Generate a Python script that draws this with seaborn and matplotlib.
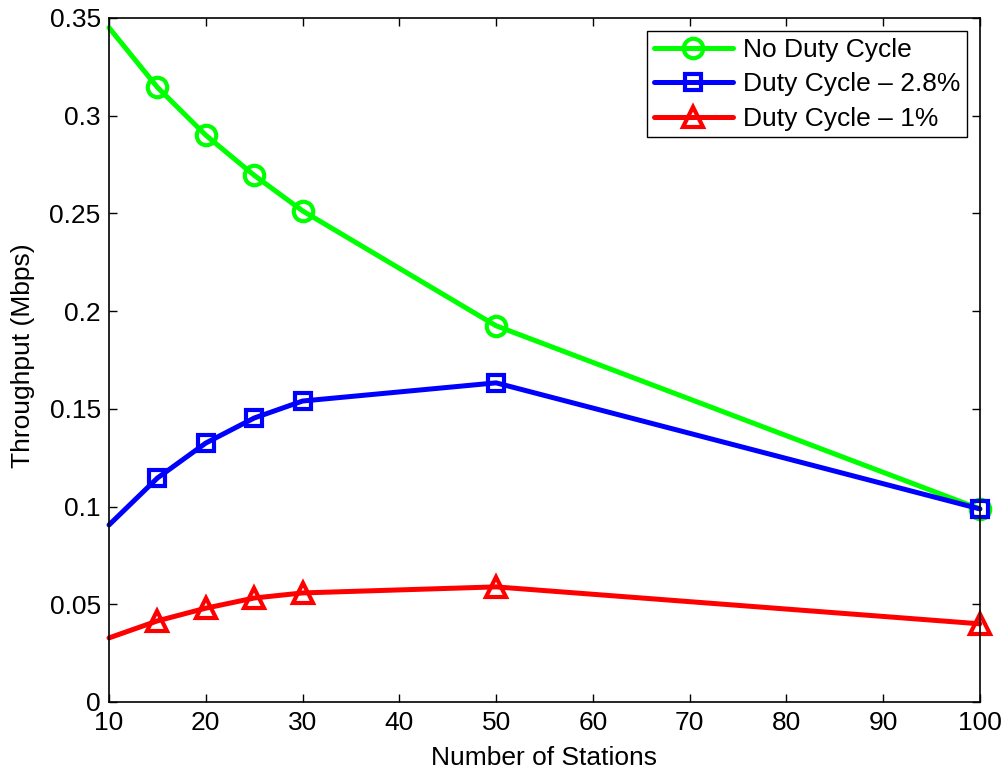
import matplotlib
matplotlib.use("Agg")
import matplotlib.pyplot as plt
import seaborn as sns
import pandas as pd

# Throughput vs. number of stations
stations = [10, 15, 20, 25, 30, 50, 100]
no_duty = [0.345, 0.3145, 0.290, 0.2695, 0.2513, 0.1925, 0.0988]
duty_28 = [0.0906, 0.1146, 0.1325, 0.1453, 0.1540, 0.1633, 0.0988]
duty_1 = [0.0328, 0.0415, 0.0480, 0.0532, 0.0558, 0.0589, 0.0400]

series_names = ["No Duty Cycle", "Duty Cycle \u2013 2.8%", "Duty Cycle \u2013 1%"]
series_values = [no_duty, duty_28, duty_1]
series_colors = ["#00ff00", "#0000ff", "#ff0000"]
series_markers = ["o", "s", "^"]

x_ticks = [10, 20, 30, 40, 50, 60, 70, 80, 90, 100]
y_ticks = [0, 0.05, 0.1, 0.15, 0.2, 0.25, 0.3, 0.35]
y_tick_labels = ["0", "0.05", "0.1", "0.15", "0.2", "0.25", "0.3", "0.35"]

sns.set_style("ticks")
plt.rcParams["font.family"] = ["Liberation Sans", "DejaVu Sans"]
plt.rcParams["xtick.direction"] = "in"
plt.rcParams["ytick.direction"] = "in"
for key in ("text.color", "axes.labelcolor", "xtick.color", "ytick.color",
            "xtick.labelcolor", "ytick.labelcolor", "axes.edgecolor"):
    plt.rcParams[key] = "black"

FS = 19

fig = plt.figure(figsize=(10.05, 7.71), dpi=100)
ax = fig.add_axes([0.1085, 0.0895, 0.8665, 0.8872])

marker_sizes = {"o": 14, "s": 12, "^": 15}
for name, vals, col, mk in zip(series_names, series_values, series_colors, series_markers):
    df = pd.DataFrame({"stations": stations, "throughput": vals})
    sns.lineplot(data=df, x="stations", y="throughput", ax=ax, color=col,
                 marker=mk, markersize=marker_sizes[mk],
                 markerfacecolor="none", markeredgecolor=col, markeredgewidth=3,
                 markevery=list(range(1, len(stations))),
                 linewidth=3.6, label=name, clip_on=False)

ax.set_xlim(10, 100)
ax.set_ylim(0, 0.35)
ax.set_xticks(x_ticks)
ax.set_xticklabels([str(t) for t in x_ticks])
ax.set_yticks(y_ticks)
ax.set_yticklabels(y_tick_labels)
ax.tick_params(axis="both", labelsize=FS, length=6, width=1, color="black",
               labelcolor="black", top=True, right=True)
ax.tick_params(axis="y", pad=6)
ax.tick_params(axis="x", pad=6.5)
for s in ax.spines.values():
    s.set_linewidth(1.2)
    s.set_color("black")
    s.set_visible(True)

ax.set_xlabel("Number of Stations", fontsize=FS, va="baseline", color="black")
ax.set_ylabel("Throughput (Mbps)", fontsize=FS, color="black")
ax.xaxis.set_label_coords(0.5, -0.0921)
ax.yaxis.set_label_coords(-0.085, 0.5066)

leg = ax.legend(loc="upper right", fontsize=FS, frameon=True, fancybox=False,
                edgecolor="black", framealpha=1, handlelength=3.0,
                borderaxespad=0.5, labelspacing=0.4, handletextpad=0.38,
                borderpad=0.25)
leg.get_frame().set_linewidth(1.0)
for t in leg.get_texts():
    t.set_color("black")

fig.savefig("out.png", dpi=100)
